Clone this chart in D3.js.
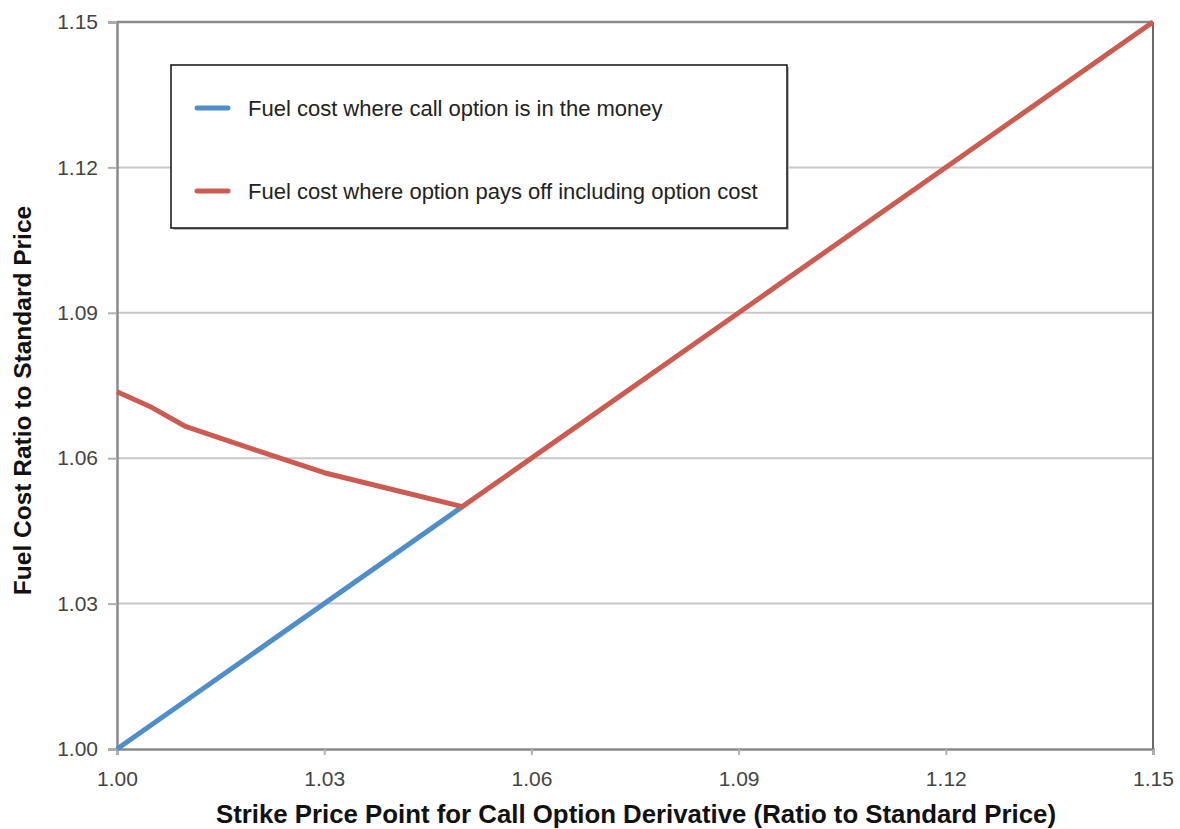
<!DOCTYPE html>
<html>
<head>
<meta charset="utf-8">
<script src="https://cdn.jsdelivr.net/npm/d3@7"></script>
<style>
  body { margin: 0; background: #fff; }
  text { font-family: "Liberation Sans", Arial, sans-serif; }
</style>
</head>
<body>
<div id="chart"></div>
<script>
// strike price points (x) and fuel cost ratios (y)
const inMoneyX = [1.00, 1.05];
const inMoneyY = [1.00, 1.05];

const payoffX = [1.00, 1.005, 1.01, 1.02, 1.03, 1.04, 1.05, 1.15];
const payoffY = [1.0737, 1.0705, 1.0665, 1.0617, 1.0570, 1.0535, 1.0500, 1.15];

const tickVals = [1.00, 1.03, 1.06, 1.09, 1.12, 1.15];
const seriesNames = ["Fuel cost where call option is in the money",
                     "Fuel cost where option pays off including option cost"];
const seriesColors = ["#4f8ecb", "#cc5b52"];

const W = 1180, H = 829;
const margin = {top: 22, right: 27, bottom: 80, left: 117};
const width = W - margin.left - margin.right;
const height = H - margin.top - margin.bottom;

const svg = d3.select("#chart").append("svg")
  .attr("width", W).attr("height", H);

const g = svg.append("g")
  .attr("transform", `translate(${margin.left}, ${margin.top})`);

const x = d3.scaleLinear().domain([1.00, 1.15]).range([0, width]);
const y = d3.scaleLinear().domain([1.00, 1.15]).range([height, 0]);

// horizontal gridlines
g.selectAll(".grid")
  .data(tickVals.slice(1))
  .join("line")
    .attr("x1", 0).attr("x2", width)
    .attr("y1", d => y(d)).attr("y2", d => y(d))
    .attr("stroke", "#c8c8c8").attr("stroke-width", 2);

// axes
const yAxis = g.append("g")
  .call(d3.axisLeft(y).tickValues(tickVals).tickFormat(d3.format(".2f")).tickSize(9).tickPadding(10));
const xAxis = g.append("g")
  .attr("transform", `translate(0, ${height})`)
  .call(d3.axisBottom(x).tickValues(tickVals).tickFormat(d3.format(".2f")).tickSize(6).tickPadding(16));

[xAxis, yAxis].forEach(a => {
  a.select(".domain").attr("stroke", "#8a8a8a").attr("stroke-width", 2.5);
  a.selectAll(".tick line").attr("stroke", "#b0b0b0").attr("stroke-width", 2);
  a.selectAll(".tick text").attr("fill", "#444").style("font-size", "21px");
});

// right and top border
g.append("line")
  .attr("x1", width).attr("x2", width)
  .attr("y1", 0).attr("y2", height)
  .attr("stroke", "#6a6a6a").attr("stroke-width", 2);
g.append("line")
  .attr("x1", 0).attr("x2", width)
  .attr("y1", 0).attr("y2", 0)
  .attr("stroke", "#8a8a8a").attr("stroke-width", 2.5);

// lines
const line = d3.line().x(d => x(d[0])).y(d => y(d[1]));

g.append("path")
  .datum(d3.zip(inMoneyX, inMoneyY))
  .attr("d", line)
  .attr("fill", "none")
  .attr("stroke", seriesColors[0])
  .attr("stroke-width", 5);

g.append("path")
  .datum(d3.zip(payoffX, payoffY))
  .attr("d", line)
  .attr("fill", "none")
  .attr("stroke", seriesColors[1])
  .attr("stroke-width", 5)
  .attr("stroke-linejoin", "round");

// legend
const legend = svg.append("g").attr("transform", "translate(171, 65)");
legend.append("rect")
  .attr("x", 2).attr("y", 2).attr("width", 616).attr("height", 163)
  .attr("fill", "#bbb");
legend.append("rect")
  .attr("width", 616).attr("height", 163)
  .attr("fill", "#fff").attr("stroke", "#111").attr("stroke-width", 1.5);

const items = legend.selectAll(".item")
  .data(seriesNames)
  .join("g")
    .attr("transform", (d, i) => `translate(0, ${43 + i * 83})`);
items.append("line")
  .attr("x1", 26).attr("x2", 57)
  .attr("stroke", (d, i) => seriesColors[i])
  .attr("stroke-width", 5).attr("stroke-linecap", "round");
items.append("text")
  .attr("x", 77).attr("dy", "0.35em")
  .style("font-size", "22px").attr("fill", "#222")
  .text(d => d);

// axis titles
svg.append("text")
  .attr("x", margin.left + width / 2 + 1).attr("y", 823)
  .attr("text-anchor", "middle")
  .style("font-size", "25.8px").style("font-weight", "bold").attr("fill", "#111")
  .text("Strike Price Point for Call Option Derivative (Ratio to Standard Price)");

svg.append("text")
  .attr("transform", `translate(31, ${margin.top + height / 2 + 15}) rotate(-90)`)
  .attr("text-anchor", "middle")
  .style("font-size", "24.5px").style("font-weight", "bold").attr("fill", "#111")
  .text("Fuel Cost Ratio to Standard Price");
</script>
</body>
</html>
